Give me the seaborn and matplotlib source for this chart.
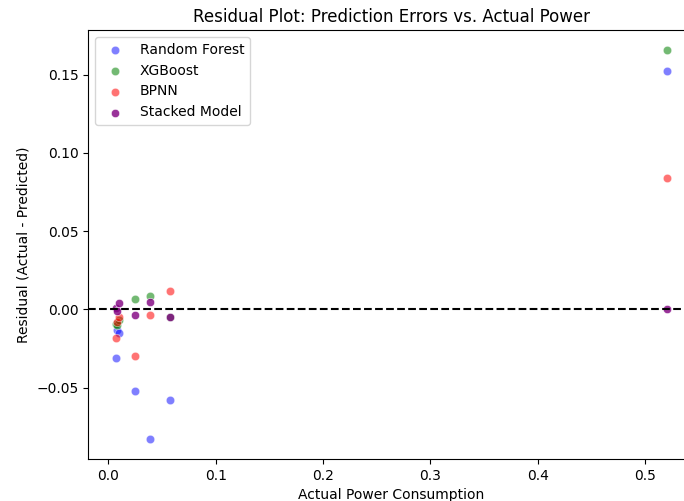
import pandas as pd
import seaborn as sns
import matplotlib
matplotlib.use("Agg")
import matplotlib.pyplot as plt

# actual power of the test samples
actual = [0.007, 0.0085, 0.010, 0.025, 0.0385, 0.0575, 0.520]

# residuals (actual - predicted) per model
rf_resid = [-0.031, -0.013, -0.015, -0.052, -0.083, -0.058, 0.152]
xgb_resid = [-0.009, -0.010, -0.007, 0.0065, 0.0085, -0.0045, 0.166]
bpnn_resid = [-0.018, -0.008, -0.005, -0.0295, -0.0035, 0.012, 0.084]
stack_resid = [0.001, -0.001, 0.004, -0.0035, 0.005, -0.005, 0.000]

models = ["Random Forest", "XGBoost", "BPNN", "Stacked Model"]
colors = ["blue", "green", "red", "purple"]
alphas = [0.5, 0.55, 0.55, 0.8]

fig = plt.figure(figsize=(6.84, 5.01), dpi=100)
ax = fig.add_axes([0.129, 0.084, 0.886, 0.856])

for name, resid, c, a in zip(models, [rf_resid, xgb_resid, bpnn_resid, stack_resid], colors, alphas):
    df = pd.DataFrame({"actual": actual, "residual": resid})
    sns.scatterplot(data=df, x="actual", y="residual", color=c, alpha=a, label=name, ax=ax)

ax.axhline(0, color="black", linestyle="--")
ax.set_title("Residual Plot: Prediction Errors vs. Actual Power")
ax.set_xlabel("Actual Power Consumption")
ax.set_ylabel("Residual (Actual - Predicted)")
ax.legend(loc="upper left")

fig.savefig("out.png", dpi=100)
